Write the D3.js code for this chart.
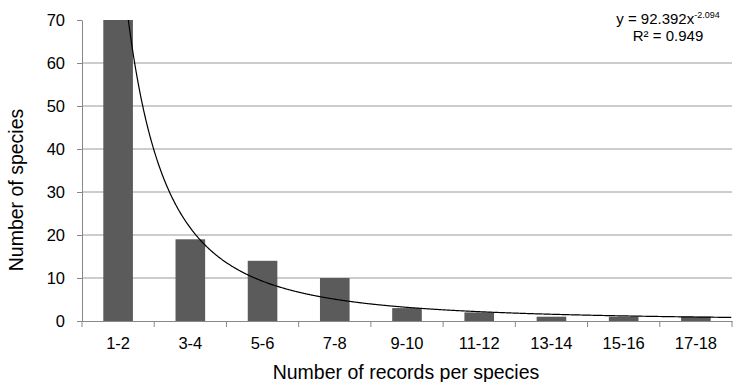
<!DOCTYPE html>
<html>
<head>
<meta charset="utf-8">
<script src="https://cdn.jsdelivr.net/npm/d3@7"></script>
<style>
  body { margin: 0; background: #fff; }
  text { font-family: "Liberation Sans", Arial, sans-serif; fill: #000; }
</style>
</head>
<body>
<script>

// data
var categories = ["1-2", "3-4", "5-6", "7-8", "9-10", "11-12", "13-14", "15-16", "17-18"];
var species = [70, 19, 14, 10, 3, 2, 1, 1, 1];
var yTicks = [0, 10, 20, 30, 40, 50, 60, 70];

// power trendline from the chart label: y = a * x^b
var trendA = 92.392;
var trendB = -2.094;

var width = 733, height = 382;
var margin = {top: 20, right: 1, bottom: 61, left: 82};
var plotW = width - margin.left - margin.right;
var plotH = height - margin.top - margin.bottom;

var svg = d3.select("body").append("svg")
  .attr("width", width)
  .attr("height", height);

var g = svg.append("g")
  .attr("transform", "translate(" + margin.left + "," + margin.top + ")");

var x = d3.scaleBand()
  .domain(categories)
  .range([0, plotW])
  .paddingInner(0.59)
  .paddingOuter(0.295);

var y = d3.scaleLinear()
  .domain([0, 70])
  .range([plotH, 0]);

// gridlines
g.selectAll(".grid")
  .data(yTicks.filter(d => d > 0 && d < 70))
  .enter().append("line")
  .attr("x1", 0)
  .attr("x2", plotW)
  .attr("y1", d => y(d))
  .attr("y2", d => y(d))
  .attr("stroke", "#9a9a9a")
  .attr("stroke-width", 1);

// bars
g.selectAll(".bar")
  .data(species)
  .enter().append("rect")
  .attr("x", (d, i) => x(categories[i]))
  .attr("y", d => y(d))
  .attr("width", x.bandwidth())
  .attr("height", d => plotH - y(d))
  .attr("fill", "#5b5b5b");

// trendline, x = 1..n at the band centres
var step = x.step();
var xIdx = d3.scaleLinear()
  .domain([1, categories.length])
  .range([x(categories[0]) + x.bandwidth() / 2, x(categories[categories.length - 1]) + x.bandwidth() / 2]);

var pts = d3.range(0.5, categories.length + 0.5, 0.01).map(function(t) {
  return [xIdx(t), y(trendA * Math.pow(t, trendB))];
});

g.append("clipPath").attr("id", "plotclip")
  .append("rect").attr("x", 0).attr("y", 0).attr("width", plotW).attr("height", plotH);

g.append("path")
  .datum(pts)
  .attr("clip-path", "url(#plotclip)")
  .attr("d", d3.line())
  .attr("fill", "none")
  .attr("stroke", "#000")
  .attr("stroke-width", 1.2);

// y axis
var yAxis = g.append("g")
  .call(d3.axisLeft(y).tickValues(yTicks).tickSize(5).tickSizeOuter(0).tickPadding(12));
yAxis.select(".domain").attr("stroke", "#888");
yAxis.selectAll(".tick line").attr("stroke", "#888");
yAxis.selectAll("text").attr("font-size", 16.5).attr("fill", "#000");

// x axis, ticks on category boundaries
var xAxis = g.append("g")
  .attr("transform", "translate(0," + plotH + ")")
  .call(d3.axisBottom(x).tickSize(0).tickPadding(16));
xAxis.select(".domain").attr("stroke", "#888");
xAxis.selectAll("text").attr("font-size", 16.5).attr("fill", "#000");

g.selectAll(".xtick")
  .data(d3.range(categories.length + 1))
  .enter().append("line")
  .attr("x1", d => d * step)
  .attr("x2", d => d * step)
  .attr("y1", plotH)
  .attr("y2", plotH + 6)
  .attr("stroke", "#888");

// axis titles
svg.append("text")
  .attr("x", 406)
  .attr("y", 379)
  .attr("text-anchor", "middle")
  .attr("font-size", 19.5)
  .text("Number of records per species");

svg.append("text")
  .attr("transform", "translate(23,190) rotate(-90)")
  .attr("text-anchor", "middle")
  .attr("font-size", 19.5)
  .text("Number of species");

// equation label
var eq = svg.append("text")
  .attr("x", 668)
  .attr("y", 24)
  .attr("text-anchor", "middle")
  .attr("font-size", 15);
eq.append("tspan").text("y = 92.392x");
eq.append("tspan").attr("dy", -6).attr("font-size", 9).text("-2.094");

svg.append("text")
  .attr("x", 668)
  .attr("y", 41)
  .attr("text-anchor", "middle")
  .attr("font-size", 15)
  .text("R² = 0.949");

</script>
</body>
</html>
